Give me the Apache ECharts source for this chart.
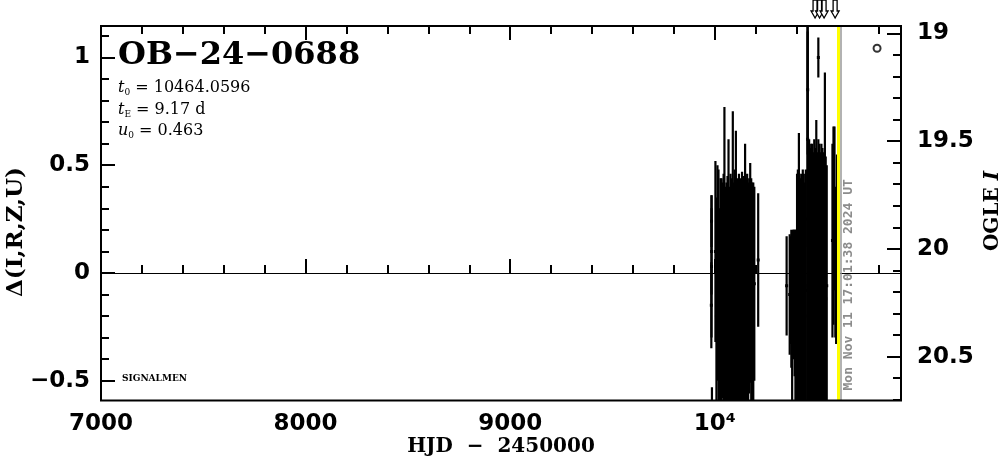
<!DOCTYPE html>
<html><head><meta charset="utf-8">
<script src="https://cdn.jsdelivr.net/npm/echarts@6/dist/echarts.min.js"></script>
<style>html,body{margin:0;padding:0;background:#fff}#c{width:1004px;height:459px}</style>
</head><body><div id="c"></div>
<script>
// ---- data (HJD-2450000, delta flux, error) ----
const hjd = [
  9983, 9984, 9984, 9984, 9986, 10003, 10008, 10013,
  10018, 10023, 10028, 10033, 10038, 10043, 10047, 10052, 10057, 10062,
  10067, 10072, 10077, 10082, 10088, 10093, 10098, 10103, 10108, 10113,
  10118, 10123, 10128, 10133, 10138, 10143, 10148, 10153, 10158, 10163,
  10168, 10173, 10178, 10183, 10188, 10193, 10212,
  10351, 10366, 10370, 10374, 10378, 10382, 10386, 10390, 10394, 10398,
  10402, 10406, 10411, 10415, 10420, 10425, 10430, 10435, 10440, 10445,
  10453, 10454, 10454,
  10456, 10461, 10466, 10471, 10476, 10481, 10486, 10491, 10496, 10501,
  10506, 10506, 10511, 10516, 10521, 10526, 10531, 10538, 10542, 10547,
  10575, 10580, 10585, 10589, 10593, 10597
];
const delta = [
  -0.15, 0.03, 0.24, 0.10, -0.70, 0.10, -0.20, 0.00,
  -0.14, -0.30, -0.12, -0.20, -0.08, -0.16, 0.04, -0.20, -0.10, -0.15,
  0.00, -0.22, -0.12, -0.18, 0.05, -0.14, -0.10, 0.00, -0.18, -0.12,
  -0.16, -0.20, -0.08, -0.14, -0.22, -0.10, 0.00, -0.16, -0.12, -0.20,
  -0.06, 0.00, -0.14, -0.18, -0.10, -0.05, 0.06,
  -0.06, -0.10, -0.08, -0.12, -0.28, -0.10, -0.06, -0.14, -0.30, -0.10,
  -0.14, -0.10, -0.05, -0.16, -0.12, -0.18, -0.10, -0.14, -0.20, -0.08,
  0.25, 0.62, 0.85,
  -0.06, -0.04, -0.10, -0.02, -0.12, -0.06, -0.04, -0.10, 0.00, -0.08,
  1.00, -0.04, -0.12, -0.06, -0.10, -0.04, -0.08, 0.10, -0.12, -0.06,
  0.15, 0.22, 0.30, 0.05, -0.06, 0.25
];
const err = [
  0.20, 0.33, 0.12, 0.20, 0.17, 0.42, 0.55, 0.50,
  0.62, 0.60, 0.56, 0.64, 0.50, 0.62, 0.73, 0.60, 0.52, 0.60,
  0.62, 0.62, 0.58, 0.62, 0.70, 0.56, 0.58, 0.66, 0.62, 0.55,
  0.62, 0.60, 0.52, 0.61, 0.64, 0.55, 0.60, 0.60, 0.58, 0.62,
  0.50, 0.51, 0.58, 0.60, 0.52, 0.45, 0.31,
  0.23, 0.28, 0.25, 0.32, 0.45, 0.30, 0.26, 0.34, 0.50, 0.30,
  0.60, 0.58, 0.70, 0.62, 0.56, 0.64, 0.58, 0.60, 0.62, 0.56,
  1.00, 0.50, 0.30,
  0.60, 0.66, 0.68, 0.62, 0.72, 0.62, 0.66, 0.68, 0.71, 0.64,
  0.093, 0.66, 0.72, 0.62, 0.70, 0.62, 0.64, 0.83, 0.66, 0.56,
  0.45, 0.46, 0.38, 0.35, 0.27, 0.30
];
const circleHjd = [10793];
const circleDelta = [1.043];
const arrowHjd = [10490, 10512, 10534, 10588];
const yellowLineHjd = 10601;
const greyLineHjd = 10615;

const xRange = [7000, 10910];
const yRange = [-0.592, 1.146];
const iRange = [18.966, 20.704];

const xMajor = [7000, 8000, 9000, 10000];
const xMinor = [7200, 7400, 7600, 7800, 8200, 8400, 8600, 8800, 9200, 9400, 9600, 9800, 10200, 10400, 10600, 10800];
const yMajor = [-0.5, 0, 0.5, 1];
const yMinor = [-0.4, -0.3, -0.2, -0.1, 0.1, 0.2, 0.3, 0.4, 0.6, 0.7, 0.8, 0.9, 1.1];
const iMajor = [19, 19.5, 20, 20.5];
const iMinor = [19.1, 19.2, 19.3, 19.4, 19.6, 19.7, 19.8, 19.9, 20.1, 20.2, 20.3, 20.4, 20.6, 20.7];

const titleText = 'OB\u221224\u22120688';
const t0Text = '10464.0596';
const tEText = '9.17 d';
const u0Text = '0.463';
const stampText = 'Mon Nov 11 17:01:38 2024 UT';

// ---- chart ----
const chart = echarts.init(document.getElementById('c'), null, {renderer: 'canvas'});
const tickLine = {color: '#000', width: 2};
const labelFont = {color: '#000', fontFamily: 'DejaVu Sans', fontWeight: 'bold', fontSize: 23};

function xAx(pos, ticks, len, withLabels) {
  return {
    type: 'value', position: pos, min: xRange[0], max: xRange[1],
    axisLine: {show: false}, splitLine: {show: false},
    axisTick: {show: true, inside: true, length: len, lineStyle: tickLine, customValues: ticks},
    axisLabel: withLabels ? Object.assign({show: true, margin: 12, customValues: ticks,
      formatter: v => (Math.abs(v - 10000) < 1e-6 ? '10\u2074' : String(v))}, labelFont) : {show: false}
  };
}
function yAx(pos, range, inverse, ticks, len, withLabels, fmt) {
  return {
    type: 'value', position: pos, min: range[0], max: range[1], inverse: inverse,
    axisLine: {show: false}, splitLine: {show: false},
    axisTick: {show: true, inside: true, length: len, lineStyle: tickLine, customValues: ticks},
    axisLabel: withLabels ? Object.assign({show: true, margin: pos === 'left' ? 11 : 16, customValues: ticks, formatter: fmt, padding: [4, 0, 0, 0]}, labelFont) : {show: false}
  };
}
const leftFmt = v => (v < 0 ? '\u2212' + String(Math.abs(v)) : String(v));
const rightFmt = v => String(v);

const barData = hjd.map((x, i) => [x, delta[i], err[i]]);
const circleData = circleHjd.map((x, i) => [x, circleDelta[i]]);

chart.setOption({
  animation: false,
  backgroundColor: '#fff',
  grid: {left: 101, right: 103, top: 26, bottom: 58.5, show: true, borderColor: '#000', borderWidth: 2, backgroundColor: 'transparent', z: 10},
  xAxis: [
    xAx('bottom', xMajor, 14, true),
    xAx('bottom', xMinor, 8, false),
    xAx('top', xMajor, 14, false),
    xAx('top', xMinor, 8, false)
  ],
  yAxis: [
    yAx('left', yRange, false, yMajor, 14, true, leftFmt),
    yAx('left', yRange, false, yMinor, 8, false),
    yAx('right', iRange, true, iMajor, 14, true, rightFmt),
    yAx('right', iRange, true, iMinor, 8, false)
  ],
  series: [
    {
      type: 'custom', xAxisIndex: 0, yAxisIndex: 0, clip: true, z: 3,
      data: barData,
      renderItem: function (params, api) {
        const x = api.value(0), y = api.value(1), e = api.value(2);
        const a = api.coord([x, y - e]), b = api.coord([x, y + e]), c = api.coord([x, y]);
        return {type: 'group', children: [
          {type: 'line', shape: {x1: a[0], y1: a[1], x2: b[0], y2: b[1]}, style: {stroke: '#000', lineWidth: 2.2}},
          {type: 'rect', shape: {x: c[0] - 1.5, y: c[1] - 1.5, width: 3, height: 3}, style: {fill: '#000'}}
        ]};
      }
    },
    {
      type: 'scatter', xAxisIndex: 0, yAxisIndex: 0, z: 4,
      symbol: 'emptyCircle', symbolSize: 7,
      itemStyle: {color: '#000', borderColor: '#000', borderWidth: 2},
      data: circleData,
      markLine: {
        silent: true, symbol: 'none', animation: false,
        label: {show: false},
        data: [
          {yAxis: 0, lineStyle: {color: '#000', width: 1, type: 'solid'}},
          {xAxis: yellowLineHjd, lineStyle: {color: '#ffff00', width: 3, type: 'solid'}},
          {xAxis: greyLineHjd, lineStyle: {color: '#999999', width: 1.5, type: 'solid'}}
        ]
      }
    }
  ]
});

// ---- annotations placed through the axes ----
const toPx = (x, y) => chart.convertToPixel({xAxisIndex: 0, yAxisIndex: 0}, [x, y]);
const gTop = toPx(xRange[0], yRange[1])[1];
const gBottom = toPx(xRange[0], yRange[0])[1];
const graphics = [];

arrowHjd.forEach(h => {
  const px = toPx(h, 0)[0];
  const tip = gTop - 8;
  graphics.push({
    type: 'polygon', z: 20,
    shape: {points: [[px - 2, 0], [px + 2, 0], [px + 2, tip - 7], [px + 4, tip - 7], [px, tip], [px - 4, tip - 7], [px - 2, tip - 7]]},
    style: {fill: '#fff', stroke: '#000', lineWidth: 1.3}
  });
});

const gx = toPx(greyLineHjd, 0)[0];
graphics.push({
  type: 'text', z: 20, x: gx + 8, y: gBottom - 10, rotation: Math.PI / 2,
  style: {text: stampText, fill: '#8c8c8c', font: 'bold 13px "DejaVu Sans Mono"', align: 'left', verticalAlign: 'middle'}
});

graphics.push({
  type: 'text', z: 20, x: 118, y: 56,
  style: {text: titleText, fill: '#000', font: 'bold 32px "DejaVu Serif"', align: 'left', verticalAlign: 'middle'}
});
const paramRich = {
  it: {fontFamily: 'DejaVu Serif', fontStyle: 'italic', fontSize: 16, fill: '#000'},
  sub: {fontFamily: 'DejaVu Serif', fontSize: 9, fill: '#000', verticalAlign: 'bottom', lineHeight: 19},
  n: {fontFamily: 'DejaVu Serif', fontSize: 16, fill: '#000'}
};
[['t', '0', t0Text, 88], ['t', 'E', tEText, 110], ['u', '0', u0Text, 131]].forEach(r => {
  graphics.push({
    type: 'text', z: 20, x: 118, y: r[3],
    style: {text: '{it|' + r[0] + '}{sub|' + r[1] + '}{n| = ' + r[2] + '}', rich: paramRich, align: 'left', verticalAlign: 'middle'}
  });
});
graphics.push({
  type: 'text', z: 20, x: 122, y: 379,
  style: {text: 'SIGNALMEN', fill: '#000', font: 'bold 9px "DejaVu Serif"', align: 'left', verticalAlign: 'middle'}
});
graphics.push({
  type: 'text', z: 20, x: 501, y: 447,
  style: {text: 'HJD  \u2212  2450000', fill: '#000', font: 'bold 20px "DejaVu Serif"', align: 'center', verticalAlign: 'middle'}
});
graphics.push({
  type: 'text', z: 20, x: 16, y: 232, rotation: Math.PI / 2,
  style: {text: '\u0394(I,R,Z,U)', fill: '#000', font: 'bold 23px "DejaVu Serif"', align: 'center', verticalAlign: 'middle'}
});
graphics.push({
  type: 'text', z: 20, x: 993, y: 211, rotation: Math.PI / 2,
  style: {text: '{a|OGLE }{b|I}', rich: {
    a: {fontFamily: 'DejaVu Serif', fontWeight: 'bold', fontSize: 20, fill: '#000'},
    b: {fontFamily: 'DejaVu Serif', fontWeight: 'bold', fontStyle: 'italic', fontSize: 20, fill: '#000'}
  }, align: 'center', verticalAlign: 'middle'}
});
chart.setOption({graphic: {elements: graphics}});
</script></body></html>
